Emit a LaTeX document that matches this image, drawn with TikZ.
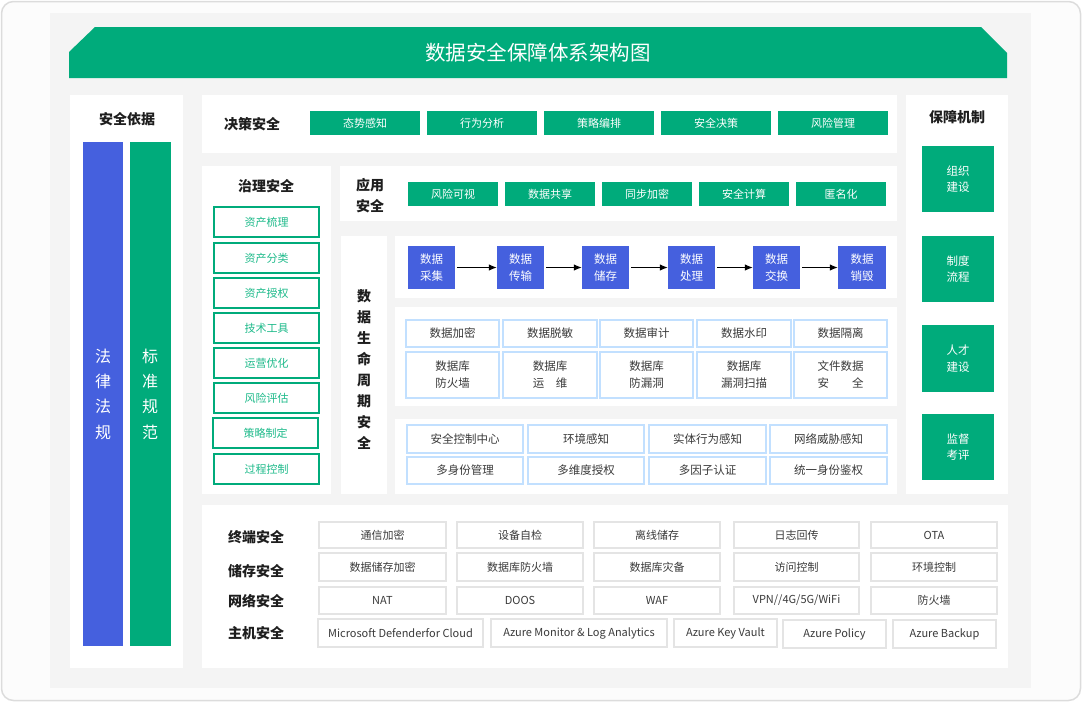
\documentclass[tikz,border=0pt]{standalone}
\usepackage{fontspec}
\setmainfont{Noto Sans CJK SC}
\usetikzlibrary{arrows.meta}
\definecolor{grn}{HTML}{00AB7B}
\definecolor{grntxt}{HTML}{1DBA8A}
\definecolor{blu}{HTML}{4560DE}
\definecolor{lblu}{HTML}{C2E0FF}
\definecolor{gbord}{HTML}{E4E4E4}
\definecolor{bgc}{HTML}{F4F4F4}
\definecolor{framec}{HTML}{DCDCDC}
\definecolor{framefill}{HTML}{FCFCFC}
\definecolor{txt}{HTML}{3A3A3A}
\definecolor{headc}{HTML}{1E1E1E}
\newcommand\bx[6]{\node[#1,minimum width={(#4-#2)*1pt},minimum height={(#5-#3)*1pt}] (#6) at ({(#2+#4)/2},{(#3+#5)/2})}
\begin{document}
\begin{tikzpicture}[x=1pt,y=-1pt,
  every node/.style={inner sep=0pt, font=\fontsize{11}{14}\selectfont},
  panel/.style={fill=white, draw=none},
  gbox/.style={fill=grn, text=white},
  obox/.style={draw=grn, line width=1.6pt, fill=white, text=grntxt},
  bbox/.style={fill=blu, text=white, align=center, font=\fontsize{11.5}{17}\selectfont},
  lbox/.style={draw=lblu, line width=1.2pt, fill=white, text=txt, align=center, font=\fontsize{11.5}{17}\selectfont},
  wbox/.style={draw=gbord, line width=1.2pt, fill=white, text=txt},
  mbox/.style={fill=grn, text=white, align=center, font=\fontsize{11.5}{16.5}\selectfont},
  headtxt/.style={text=headc, font=\fontsize{14}{21}\selectfont\bfseries, align=center},
  flowarrow/.style={-{Latex[length=8pt,width=6.5pt]}, line width=1pt, black, shorten <=2pt}]
\useasboundingbox (0,0) rectangle (1082,702);
% frame and background
\draw[framec, line width=1.5pt, fill=framefill, rounded corners=12pt] (1.5,1.5) rectangle (1080.5,700.5);
\fill[bgc] (50,13) rectangle (1031,688);
% banner
\fill[grn] (69,78) -- (69,52) -- (95,27) -- (981,27) -- (1007,53) -- (1007,78) -- cycle;
\node[text=white, font=\fontsize{20.5}{24}\selectfont] (title) at (538,53) {数据安全保障体系架构图};
% panels
\bx{panel}{70}{95}{183}{668}{pL} {};
\bx{panel}{202}{95}{897}{153}{pD} {};
\bx{panel}{202}{166}{331}{494}{pZ} {};
\bx{panel}{340}{166}{897}{221}{pY} {};
\bx{panel}{341}{236}{387}{494}{pS} {};
\bx{panel}{395}{236}{897}{298}{pF} {};
\bx{panel}{395}{307}{897}{406}{pDB} {};
\bx{panel}{395}{419}{897}{494}{pC} {};
\bx{panel}{906}{95}{1008}{494}{pR} {};
\bx{panel}{202}{505}{1008}{668}{pB} {};
% left column
\node[headtxt] (hL) at (127,119) {安全依据};
\bx{fill=blu}{83}{142}{123}{646}{law} {};
\bx{fill=grn}{130}{142}{171}{646}{std} {};
\node[text=white, align=center, font=\fontsize{16}{25.3}\selectfont] (lawt) at (103,394) {法\\律\\法\\规};
\node[text=white, align=center, font=\fontsize{16}{25.3}\selectfont] (stdt) at (150,394) {标\\准\\规\\范};
% decision
\node[headtxt] (hD) at (252,124) {决策安全};
\bx{gbox}{310}{111}{420}{135}{d1} {态势感知};
\bx{gbox}{427}{111}{537}{135}{d2} {行为分析};
\bx{gbox}{544}{111}{654}{135}{d3} {策略编排};
\bx{gbox}{661}{111}{771}{135}{d4} {安全决策};
\bx{gbox}{778}{111}{888}{135}{d5} {风险管理};
% governance
\node[headtxt] (hZ) at (266,186) {治理安全};
\bx{obox}{214}{207}{319}{237}{z1} {资产梳理};
\bx{obox}{214}{243}{319}{273}{z2} {资产分类};
\bx{obox}{214}{278}{319}{308}{z3} {资产授权};
\bx{obox}{214}{313}{319}{343}{z4} {技术工具};
\bx{obox}{214}{348}{319}{378}{z5} {运营优化};
\bx{obox}{214}{383}{319}{413}{z6} {风险评估};
\bx{obox}{213}{418}{318}{448}{z7} {策略制定};
\bx{obox}{214}{454}{319}{484}{z8} {过程控制};
% application
\node[headtxt] (hY) at (370,195.5) {应用\\安全};
\bx{gbox}{408}{182}{498}{206}{y1} {风险可视};
\bx{gbox}{505}{182}{595}{206}{y2} {数据共享};
\bx{gbox}{602}{182}{692}{206}{y3} {同步加密};
\bx{gbox}{699}{182}{789}{206}{y4} {安全计算};
\bx{gbox}{796}{182}{886}{206}{y5} {匿名化};
% lifecycle
\node[headtxt] (hS) at (364,369.5) {数\\据\\生\\命\\周\\期\\安\\全};
\bx{bbox}{408}{246}{455}{289}{f1} {数据\\采集};
\bx{bbox}{497}{246}{544}{289}{f2} {数据\\传输};
\bx{bbox}{582}{246}{629}{289}{f3} {数据\\储存};
\bx{bbox}{668}{246}{715}{289}{f4} {数据\\处理};
\bx{bbox}{753}{246}{800}{289}{f5} {数据\\交换};
\bx{bbox}{838}{246}{886}{289}{f6} {数据\\销毁};
\draw[flowarrow] (f1) -- (f2);
\draw[flowarrow] (f2) -- (f3);
\draw[flowarrow] (f3) -- (f4);
\draw[flowarrow] (f4) -- (f5);
\draw[flowarrow] (f5) -- (f6);
\bx{lbox}{406}{320}{499}{347}{a1} {数据加密};
\bx{lbox}{503}{320}{597}{347}{a2} {数据脱敏};
\bx{lbox}{600}{320}{693}{347}{a3} {数据审计};
\bx{lbox}{697}{320}{791}{347}{a4} {数据水印};
\bx{lbox}{794}{320}{887}{347}{a5} {数据隔离};
\bx{lbox}{406}{352}{499}{398}{b1} {数据库\\防火墙};
\bx{lbox}{503}{352}{597}{398}{b2} {数据库\\运　维};
\bx{lbox}{600}{352}{693}{398}{b3} {数据库\\防漏洞};
\bx{lbox}{697}{352}{791}{398}{b4} {数据库\\漏洞扫描};
\bx{lbox}{794}{352}{887}{398}{b5} {文件数据\\安　　全};
\bx{lbox}{407}{425}{523}{453}{c1} {安全控制中心};
\bx{lbox}{528}{425}{644}{453}{c2} {环境感知};
\bx{lbox}{649}{425}{766}{453}{c3} {实体行为感知};
\bx{lbox}{770}{425}{887}{453}{c4} {网络威胁感知};
\bx{lbox}{407}{457}{523}{484}{e1} {多身份管理};
\bx{lbox}{528}{457}{644}{484}{e2} {多维度授权};
\bx{lbox}{649}{457}{766}{484}{e3} {多因子认证};
\bx{lbox}{770}{457}{887}{484}{e4} {统一身份鉴权};
% right column
\node[headtxt] (hR) at (957,117) {保障机制};
\bx{mbox}{922}{146}{994}{212}{m1} {组织\\建设};
\bx{mbox}{922}{236}{994}{302}{m2} {制度\\流程};
\bx{mbox}{922}{325}{994}{392}{m3} {人才\\建设};
\bx{mbox}{922}{414}{994}{480}{m4} {监督\\考评};
% bottom
\node[headtxt] (t1) at (256,537) {终端安全};
\node[headtxt] (t2) at (256,571) {储存安全};
\node[headtxt] (t3) at (256,601) {网络安全};
\node[headtxt] (t4) at (256,633) {主机安全};
\bx{wbox}{319}{522}{446}{548}{r11} {通信加密};
\bx{wbox}{457}{522}{583}{548}{r12} {设备自检};
\bx{wbox}{594}{522}{720}{548}{r13} {离线储存};
\bx{wbox}{734}{522}{859}{548}{r14} {日志回传};
\bx{wbox}{871}{522}{997}{548}{r15} {OTA};
\bx{wbox}{319}{553}{446}{581}{r21} {数据储存加密};
\bx{wbox}{457}{553}{583}{581}{r22} {数据库防火墙};
\bx{wbox}{594}{553}{720}{581}{r23} {数据库灾备};
\bx{wbox}{734}{553}{859}{581}{r24} {访问控制};
\bx{wbox}{871}{553}{997}{581}{r25} {环境控制};
\bx{wbox}{319}{587}{446}{614}{r31} {NAT};
\bx{wbox}{457}{587}{583}{614}{r32} {DOOS};
\bx{wbox}{594}{587}{720}{614}{r33} {WAF};
\bx{wbox}{734}{587}{859}{614}{r34} {VPN//4G/5G/WiFi};
\bx{wbox}{871}{587}{997}{614}{r35} {防火墙};
\bx{wbox}{318}{619}{483}{647}{r41} {Microsoft Defenderfor Cloud};
\bx{wbox}{491}{619}{667}{647}{r42} {Azure Monitor \& Log Analytics};
\bx{wbox}{674}{619}{777}{647}{r43} {Azure Key Vault};
\bx{wbox}{783}{620}{886}{648}{r44} {Azure Policy};
\bx{wbox}{893}{620}{996}{648}{r45} {Azure Backup};
\end{tikzpicture}
\end{document}
